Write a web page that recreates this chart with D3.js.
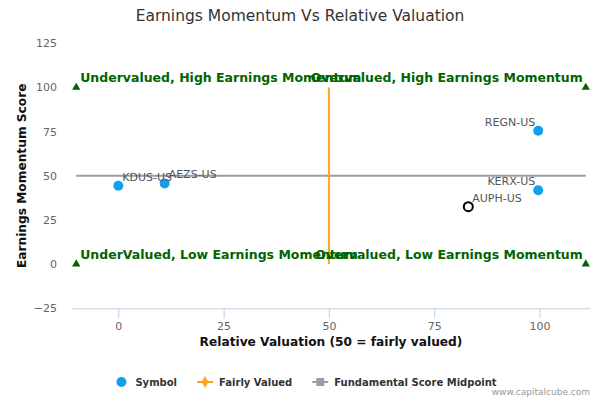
<!DOCTYPE html>
<html>
<head>
<meta charset="utf-8">
<script src="https://cdn.jsdelivr.net/npm/d3@7"></script>
<style>
  body { margin: 0; background: #fff; }
  svg { font-family: "DejaVu Sans", sans-serif; }
</style>
</head>
<body>
<svg id="chart" width="600" height="400"></svg>
<script>
// symbols (relative valuation, earnings momentum)
const symbols = ['KDUS-US', 'AEZS-US', 'REGN-US', 'KERX-US', 'AUPH-US'];
const valuation = [0, 11, 99.7, 99.7, 83.1];
const momentum = [44.4, 45.7, 75.5, 41.8, 32.5];
const highlighted = ['AUPH-US'];

// quadrant corner markers
const quadLabels = [
    'Undervalued, High Earnings Momentum',
    'Overvalued, High Earnings Momentum',
    'UnderValued, Low Earnings Momentum',
    'Overvalued, Low Earnings Momentum'
];
const quadX = [-10, 111, -10, 111];
const quadY = [100, 100, 0, 0];

// reference lines
const fairlyValuedX = [50, 50];
const fairlyValuedY = [0, 100];
const midpointX = [-10, 111];
const midpointY = [50, 50];

const xTicks = [0, 25, 50, 75, 100];
const yTicks = [-25, 0, 25, 50, 75, 100, 125];
const legendItems = ['Symbol', 'Fairly Valued', 'Fundamental Score Midpoint'];

const svg = d3.select('#chart');

let x = d3.scaleLinear().domain([-11, 112]).range([72, 590]);
let y = d3.scaleLinear().domain([-25, 125]).range([308.3, 43.3]);

const blue = '#11a0ef';
const orange = '#ffa51f';
const grey = '#9a9ca8';
const green = '#006400';

// title
svg.append('text')
    .attr('x', 300).attr('y', 21)
    .attr('text-anchor', 'middle')
    .style('font-size', '15.5px').style('fill', '#333')
    .text('Earnings Momentum Vs Relative Valuation');

// x axis
let xAxis = svg.append('g')
    .attr('transform', `translate(0,${y(-25)})`)
    .call(d3.axisBottom(x).tickValues(xTicks).tickSize(10).tickSizeOuter(0).tickPadding(4));
xAxis.select('.domain').attr('stroke', '#c0d0e0');
xAxis.selectAll('.tick line').attr('stroke', '#c0d0e0');
xAxis.selectAll('.tick text').style('font-size', '11px').style('fill', '#666')
    .style('font-family', '"DejaVu Sans", sans-serif');

// y axis
let yAxis = svg.append('g')
    .attr('transform', `translate(${x.range()[0]},0)`)
    .call(d3.axisLeft(y).tickValues(yTicks).tickSize(0).tickPadding(15));
yAxis.select('.domain').remove();
yAxis.selectAll('.tick text').style('font-size', '11px').style('fill', '#666')
    .style('font-family', '"DejaVu Sans", sans-serif');

// axis titles
svg.append('text')
    .attr('x', 331).attr('y', 346)
    .attr('text-anchor', 'middle')
    .style('font-size', '12.2px').style('font-weight', 'bold').style('fill', '#111')
    .text('Relative Valuation (50 = fairly valued)');

svg.append('text')
    .attr('transform', `translate(26,${(y.range()[0] + y.range()[1]) / 2}) rotate(-90)`)
    .attr('text-anchor', 'middle')
    .style('font-size', '12.2px').style('font-weight', 'bold').style('fill', '#111')
    .text('Earnings Momentum Score');

// reference lines
let line = d3.line().x(d => x(d[0])).y(d => y(d[1]));
svg.append('path')
    .attr('d', line(d3.zip(midpointX, midpointY)))
    .attr('stroke', grey).attr('stroke-width', 2).attr('fill', 'none');
svg.append('path')
    .attr('d', line(d3.zip(fairlyValuedX, fairlyValuedY)))
    .attr('stroke', orange).attr('stroke-width', 2).attr('fill', 'none');

// quadrant markers + labels
let quads = d3.zip(quadLabels, quadX, quadY);
svg.append('g').selectAll('path')
    .data(quads)
    .join('path')
    .attr('d', d3.symbol(d3.symbolTriangle, 30))
    .attr('transform', d => `translate(${x(d[1])},${y(d[2])})`)
    .attr('fill', green);

svg.append('g').selectAll('text')
    .data(quads)
    .join('text')
    .attr('x', d => d[1] < 50 ? x(d[1]) + 4 : x(d[1]) - 3)
    .attr('y', d => y(d[2]) - 5)
    .attr('text-anchor', d => d[1] < 50 ? 'start' : 'end')
    .style('font-size', '12.5px').style('font-weight', 'bold').style('fill', green)
    .text(d => d[0]);

// symbols
let points = d3.zip(symbols, valuation, momentum);
svg.append('g').selectAll('circle')
    .data(points)
    .join('circle')
    .attr('cx', d => x(d[1]))
    .attr('cy', d => y(d[2]))
    .attr('r', d => highlighted.includes(d[0]) ? 4.5 : 5)
    .attr('fill', d => highlighted.includes(d[0]) ? '#fff' : blue)
    .attr('stroke', d => highlighted.includes(d[0]) ? '#000' : 'none')
    .attr('stroke-width', 2);

svg.append('g').selectAll('text')
    .data(points)
    .join('text')
    .attr('x', d => d[1] > 90 ? x(d[1]) - 3 : x(d[1]) + 4)
    .attr('y', d => y(d[2]) - 5)
    .attr('text-anchor', d => d[1] > 90 ? 'end' : 'start')
    .style('font-size', '11px').style('fill', '#555')
    .text(d => d[0]);

// legend
let legend = svg.append('g').attr('transform', 'translate(0,382)');
let items = legend.selectAll('g')
    .data(legendItems)
    .join('g');
items.append('text')
    .attr('x', 22).attr('dy', '0.35em')
    .style('font-size', '10px').style('font-weight', 'bold').style('fill', '#333')
    .text(d => d);

let offset = 0;
let widths = [];
items.each(function(){
    let w = this.querySelector('text').getComputedTextLength();
    widths.push(w);
});
let total = d3.sum(widths) + widths.length * 22 + (widths.length - 1) * 20;
offset = 305 - total / 2;
items.each(function(d, i){
    d3.select(this).attr('transform', `translate(${offset},0)`);
    offset += 22 + widths[i] + 20;
});

items.filter((d, i) => i === 0).append('circle')
    .attr('cx', 8).attr('r', 5).attr('fill', blue);
items.filter((d, i) => i === 1).append('path')
    .attr('d', 'M0,0H16').attr('stroke', orange).attr('stroke-width', 2);
items.filter((d, i) => i === 1).append('path')
    .attr('d', d3.symbol(d3.symbolDiamond, 40))
    .attr('transform', 'translate(8,0)').attr('fill', orange);
items.filter((d, i) => i === 2).append('path')
    .attr('d', 'M0,0H16').attr('stroke', grey).attr('stroke-width', 2);
items.filter((d, i) => i === 2).append('rect')
    .attr('x', 4).attr('y', -4).attr('width', 8).attr('height', 8).attr('fill', grey);

// credit
svg.append('text')
    .attr('x', 590).attr('y', 395)
    .attr('text-anchor', 'end')
    .style('font-size', '9px').style('fill', '#999')
    .text('www.capitalcube.com');
</script>
</body>
</html>
